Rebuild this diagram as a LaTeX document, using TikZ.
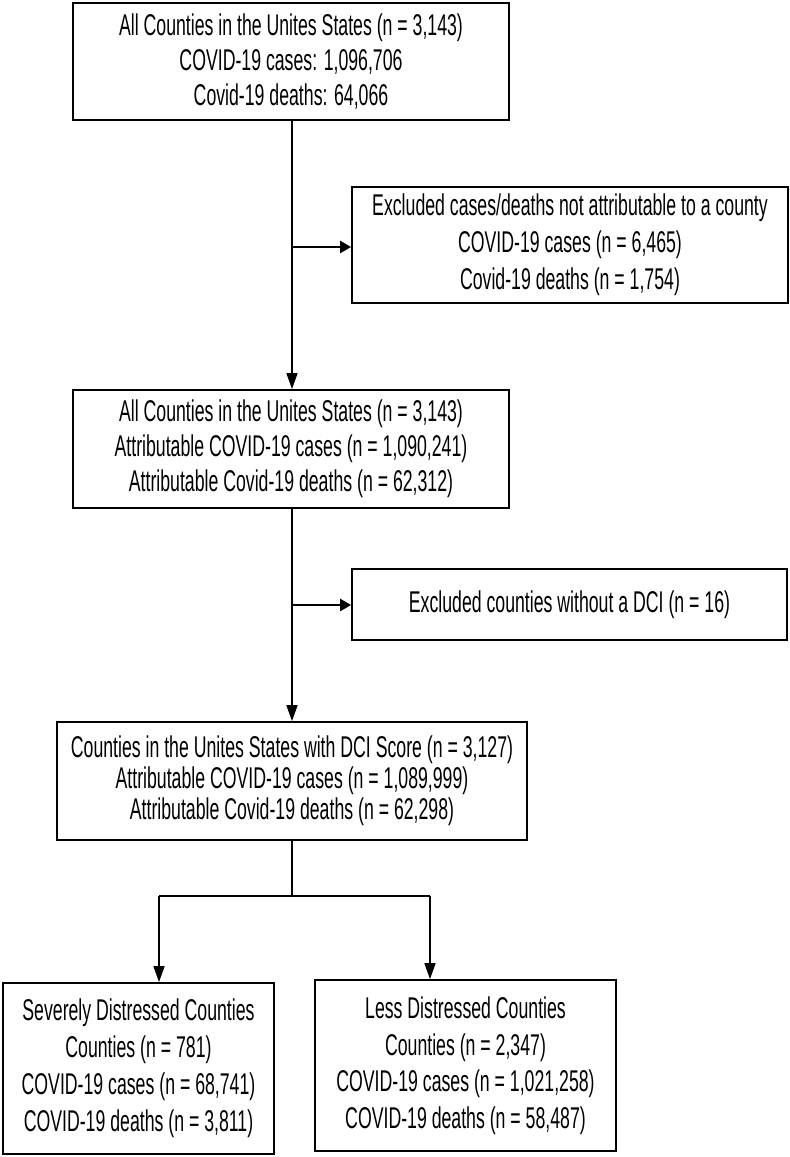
\documentclass[tikz,border=0pt]{standalone}
\usepackage{fontspec}
\setmainfont{Liberation Sans}[FakeStretch=0.59]
\usetikzlibrary{arrows.meta}
\tikzset{
  box/.style={draw, line width=1.8pt, inner sep=0pt, align=center, anchor=center},
  conn/.style={line width=1.6pt},
  arr/.style={conn, -{Triangle[length=16pt,width=11pt]}},
  harr/.style={line width=2.4pt, -{Triangle[length=11pt,width=12pt]}},
}
\newcommand{\fs}[1]{\fontsize{30pt}{#1}\selectfont}
\begin{document}
\begin{tikzpicture}[x=1pt,y=-1pt]
\useasboundingbox (0,0) rectangle (790,1157);
\node[box, minimum width=436pt, minimum height=117pt, font=\fs{35pt}] (b1) at (291,61.5)
  {All Counties in the Unites States (n = 3,143)\\COVID-19 cases: 1,096,706\\Covid-19 deaths: 64,066};
\node[box, minimum width=436pt, minimum height=116pt, font=\fs{37pt}] (b2) at (570,245)
  {Excluded cases/deaths not attributable to a county\\COVID-19 cases (n = 6,465)\\Covid-19 deaths (n = 1,754)};
\node[box, minimum width=436pt, minimum height=118pt, font=\fs{35pt}] (b3) at (291,449)
  {All Counties in the Unites States (n = 3,143)\\Attributable COVID-19 cases (n = 1,090,241)\\Attributable Covid-19 deaths (n = 62,312)};
\node[box, minimum width=435pt, minimum height=71pt, font=\fs{30pt}] (b4) at (569.5,604.5)
  {Excluded counties without a DCI (n = 16)};
\node[box, minimum width=470pt, minimum height=118pt, font=\fs{31pt}] (b5) at (292,781)
  {Counties in the Unites States with DCI Score (n = 3,127)\\Attributable COVID-19 cases (n = 1,089,999)\\Attributable Covid-19 deaths (n = 62,298)};
\node[box, minimum width=271pt, minimum height=171pt, font=\fs{37pt}] (b6) at (138.5,1068.5)
  {Severely Distressed Counties\\Counties (n = 781)\\COVID-19 cases (n = 68,741)\\COVID-19 deaths (n = 3,811)};
\node[box, minimum width=301pt, minimum height=171pt, font=\fs{36.5pt}] (b7) at (465.5,1065.5)
  {Less Distressed Counties\\Counties (n = 2,347)\\COVID-19 cases (n = 1,021,258)\\COVID-19 deaths (n = 58,487)};
\coordinate (j1) at (292,247);
\coordinate (j2) at (292,605);
\coordinate (j3) at (292,896);
\coordinate (sl) at (159,896);
\coordinate (sr) at (430,896);
\draw[arr] (292,0 |- b1.south) -- (292,0 |- b3.north);
\draw[harr] (j1) -- (j1 -| b2.west);
\draw[arr] (292,0 |- b3.south) -- (292,0 |- b5.north);
\draw[harr] (j2) -- (j2 -| b4.west);
\draw[conn] (292,0 |- b5.south) -- (j3);
\draw[line width=2.6pt] (sl) -- (sr);
\draw[arr] (sl) -- (sl |- b6.north);
\draw[arr] (sr) -- (sr |- b7.north);
\end{tikzpicture}
\end{document}
